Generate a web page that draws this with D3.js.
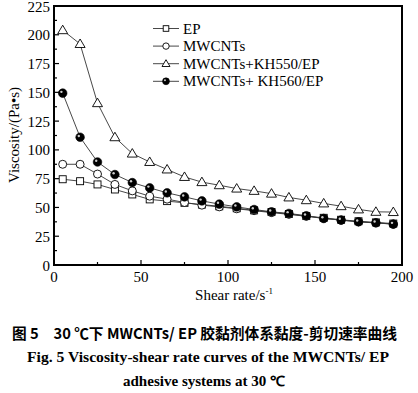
<!DOCTYPE html>
<meta charset="utf-8">
<style>
  body { margin: 0; background: #fff; }
  text { font-family: "Liberation Serif", "Times New Roman", serif; }
</style>
<svg width="418" height="393"></svg>
<script src="https://cdn.jsdelivr.net/npm/d3@7"></script>
<script>
  // shear rates, s^-1
  var shear = [5, 15, 25, 35, 45, 55, 65, 75, 85, 95, 105, 115, 125, 135, 145, 155, 165, 175, 185, 195]

  var ep = [74.5, 72.8, 70, 65.6, 61.3, 57, 55.5, 54, 52.5, 51, 49.3, 47.5, 46, 44.3, 42.5, 41, 39.3, 38, 37, 36]
  var mwcnts = [87.5, 87.5, 79, 70, 64.4, 59.8, 57.2, 54.3, 52, 50.5, 48.8, 47.2, 45.5, 44, 42.3, 40.5, 39, 37.5, 36.5, 35.5]
  var kh550 = [204, 192, 140.6, 111, 96.8, 89.5, 83, 76.5, 72, 69.3, 66.4, 64.4, 62, 58.7, 56.3, 53.5, 51.1, 48.3, 46.2, 46]
  var kh560 = [149.3, 111, 89.5, 78.6, 71.6, 67, 62.7, 59.2, 55.7, 52.9, 50.5, 48.2, 46.2, 44.8, 42.8, 40.4, 39, 37.5, 36.7, 35.5]

  var seriesNames = ['EP', 'MWCNTs', 'MWCNTs+KH550/EP', 'MWCNTs+ KH560/EP']
  var yTicks = [0, 25, 50, 75, 100, 125, 150, 175, 200, 225]
  var xTicks = [0, 50, 100, 150, 200]

  var series = [
    { name: seriesNames[0], values: ep, shape: 'square' },
    { name: seriesNames[1], values: mwcnts, shape: 'circle' },
    { name: seriesNames[2], values: kh550, shape: 'triangle' },
    { name: seriesNames[3], values: kh560, shape: 'ball' }
  ]

  var svg = d3.select('svg')

  // plot box (window.top is reserved, so use a plain object)
  var box = { l: 54, r: 402, t: 6, b: 265 }

  var x = d3.scaleLinear().domain([0, 200]).range([box.l, box.r])
  var y = d3.scaleLinear().domain([0, 225]).range([box.b, box.t])

  // ticks inside the frame
  var g = svg.append('g')
  d3.range(0, 225.1, 12.5).forEach(function (v) {
    var major = v % 25 === 0
    g.append('line')
      .attr('x1', box.l).attr('x2', box.l + (major ? 5 : 3))
      .attr('y1', y(v)).attr('y2', y(v))
      .attr('stroke', '#000').attr('stroke-width', 1.2)
  })
  d3.range(0, 200.1, 25).forEach(function (v) {
    var major = v % 50 === 0
    g.append('line')
      .attr('x1', x(v)).attr('x2', x(v))
      .attr('y1', box.b).attr('y2', box.b - (major ? 5 : 3))
      .attr('stroke', '#000').attr('stroke-width', 1.2)
  })

  // frame
  svg.append('rect')
    .attr('x', box.l).attr('y', box.t)
    .attr('width', box.r - box.l).attr('height', box.b - box.t)
    .attr('fill', 'none').attr('stroke', '#000').attr('stroke-width', 2)

  // tick labels
  svg.append('g').selectAll('text')
    .data(yTicks)
    .enter().append('text')
    .attr('x', box.l - 4)
    .attr('y', function (d) { return y(d) + 5.5 })
    .attr('text-anchor', 'end')
    .attr('font-size', 15)
    .text(function (d) { return d })

  svg.append('g').selectAll('text')
    .data(xTicks)
    .enter().append('text')
    .attr('x', function (d) { return x(d) })
    .attr('y', box.b + 17)
    .attr('text-anchor', 'middle')
    .attr('font-size', 15)
    .text(function (d) { return d })

  // axis titles
  svg.append('text')
    .attr('transform', 'translate(19,135) rotate(-90)')
    .attr('text-anchor', 'middle')
    .attr('font-size', 15)
    .text('Viscosity/(Pa•s)')

  var xt = svg.append('text')
    .attr('x', 234).attr('y', 300)
    .attr('text-anchor', 'middle')
    .attr('font-size', 15)
    .text('Shear rate/s')
  xt.append('tspan').attr('font-size', 9).attr('dy', -6).text('-1')

  function drawMarker(sel, shape, cx, cy, k) {
    k = k || 1
    if (shape === 'square') {
      sel.append('rect')
        .attr('x', cx - 3.5 * k).attr('y', cy - 3.5 * k).attr('width', 7 * k).attr('height', 7 * k)
        .attr('fill', '#fff').attr('stroke', '#000').attr('stroke-width', 0.9)
    } else if (shape === 'circle') {
      sel.append('circle')
        .attr('cx', cx).attr('cy', cy).attr('r', 4 * k)
        .attr('fill', '#fff').attr('stroke', '#000').attr('stroke-width', 0.9)
    } else if (shape === 'triangle') {
      sel.append('path')
        .attr('d', 'M' + cx + ',' + (cy - 5 * k) + 'L' + (cx + 5 * k) + ',' + (cy + 3.5 * k) + 'L' + (cx - 5 * k) + ',' + (cy + 3.5 * k) + 'Z')
        .attr('fill', '#fff').attr('stroke', '#000').attr('stroke-width', 0.9)
    } else {
      sel.append('circle')
        .attr('cx', cx).attr('cy', cy).attr('r', 4.3 * k)
        .attr('fill', '#000').attr('stroke', '#000').attr('stroke-width', 0.6)
      sel.append('circle')
        .attr('cx', cx - 1.3 * k).attr('cy', cy - 1.3 * k).attr('r', 1.2 * k)
        .attr('fill', '#ccc')
    }
  }

  var line = d3.line()
    .x(function (d) { return x(d[0]) })
    .y(function (d) { return y(d[1]) })

  series.forEach(function (s) {
    var pts = shear.map(function (v, i) { return [v, s.values[i]] })
    var sg = svg.append('g')
    sg.append('path')
      .attr('d', line(pts))
      .attr('fill', 'none')
      .attr('stroke', '#333')
      .attr('stroke-width', 0.9)
    pts.forEach(function (p) { drawMarker(sg, s.shape, x(p[0]), y(p[1])) })
  })

  // legend
  var legend = svg.append('g')
  series.forEach(function (s, i) {
    var ly = 28.5 + i * 17.6
    legend.append('line')
      .attr('x1', 153).attr('x2', 179)
      .attr('y1', ly).attr('y2', ly)
      .attr('stroke', '#333').attr('stroke-width', 0.9)
    drawMarker(legend, s.shape, 166, ly, 0.8)
    legend.append('text')
      .attr('x', 183).attr('y', ly + 5)
      .attr('font-size', 15)
      .text(s.name)
  })

  // caption
  svg.append('text')
    .attr('x', 12).attr('y', 339)
    .attr('font-size', 15)
    .attr('font-weight', 'bold')
    .attr('textLength', 385)
    .attr('lengthAdjust', 'spacingAndGlyphs')
    .style('font-family', '"Noto Sans CJK SC", sans-serif')
    .text('图 5　30 ℃下 MWCNTs/ EP 胶黏剂体系黏度-剪切速率曲线')

  svg.append('text')
    .attr('x', 27).attr('y', 362)
    .attr('font-size', 14)
    .attr('font-weight', 'bold')
    .attr('textLength', 362)
    .attr('lengthAdjust', 'spacingAndGlyphs')
    .text('Fig. 5    Viscosity-shear rate curves of the MWCNTs/ EP')

  svg.append('text')
    .attr('x', 123).attr('y', 386)
    .attr('font-size', 14)
    .attr('font-weight', 'bold')
    .attr('textLength', 162)
    .attr('lengthAdjust', 'spacingAndGlyphs')
    .text('adhesive systems at 30 ℃')
</script>
